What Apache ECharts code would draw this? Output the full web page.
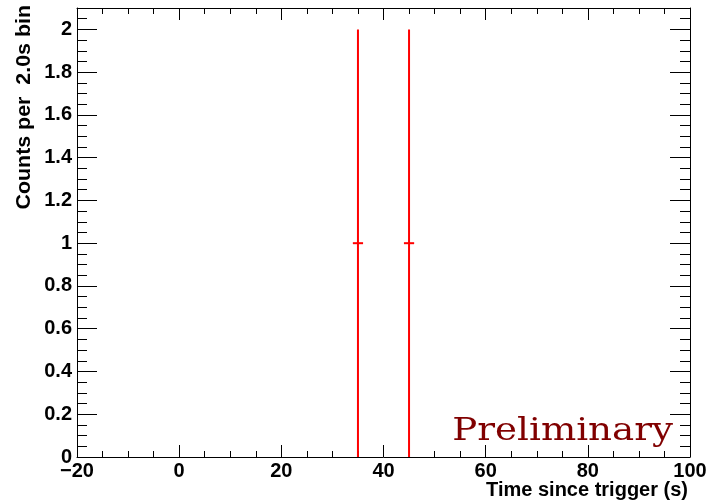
<!DOCTYPE html>
<html>
<head>
<meta charset="utf-8">
<script src="https://cdn.jsdelivr.net/npm/echarts@6/dist/echarts.min.js"></script>
<style>
html,body{margin:0;padding:0;background:#fff;}
#chart{width:707px;height:504px;}
</style>
</head>
<body>
<div id="chart"></div>
<script>
// ---- data ----
const binCenters = [35, 45];          // time since trigger (s)
const counts = [1, 1];                // counts per 2.0 s bin
const countErrors = [1, 1];           // +/- error on counts
const binWidth = 2.0;                 // s
const xTitle = 'Time since trigger (s)';
const yTitle = 'Counts per  2.0s bin';
const watermark = 'Preliminary';

const seriesData = binCenters.map((x, i) => [x, counts[i], countErrors[i], binWidth / 2]);

const FONT = '"Liberation Sans", Arial, Helvetica, sans-serif';
const axisCol = '#000';
const labelStyle = { fontFamily: FONT, fontWeight: 'bold', fontSize: 20, color: '#000' };

function fmtX(v) {
  return v < 0 ? '\u2212' + Math.abs(v) : String(v);
}
function fmtY(v) {
  return String(parseFloat(v.toFixed(2)));
}

const chart = echarts.init(document.getElementById('chart'), null, { renderer: 'canvas' });

const baseX = {
  type: 'value', min: -20, max: 100, interval: 20,
  axisLine: { show: true, onZero: false, lineStyle: { color: axisCol, width: 1 } },
  axisTick: { show: true, inside: true, length: 12, lineStyle: { color: axisCol, width: 1 } },
  minorTick: { show: true, splitNumber: 4, length: 6, lineStyle: { color: axisCol, width: 1 } },
  splitLine: { show: false }, minorSplitLine: { show: false }
};
const baseYMajor = {
  type: 'value', min: 0, max: 2.1, interval: 0.2,
  axisLine: { show: true, onZero: false, lineStyle: { color: axisCol, width: 1 } },
  axisTick: { show: true, inside: true, length: 20, lineStyle: { color: axisCol, width: 1 } },
  splitLine: { show: false }
};
const baseYMinor = {
  type: 'value', min: 0, max: 2.1, interval: 0.05,
  axisLine: { show: false, onZero: false },
  axisTick: { show: true, inside: true, length: 10, lineStyle: { color: axisCol, width: 1 } },
  axisLabel: { show: false },
  splitLine: { show: false }
};

const option = {
  backgroundColor: '#fff',
  animation: false,
  grid: { left: 77, right: 17, top: 8, bottom: 47, containLabel: false, outerBoundsMode: 'none' },
  xAxis: [
    Object.assign({}, baseX, {
      position: 'bottom',
      axisLabel: Object.assign({}, labelStyle, { margin: 4, formatter: fmtX, showMaxLabel: true, showMinLabel: true })
    }),
    Object.assign({}, baseX, { position: 'top', axisLabel: { show: false } })
  ],
  yAxis: [
    Object.assign({}, baseYMajor, {
      position: 'left',
      axisLabel: Object.assign({}, labelStyle, { margin: 5, formatter: fmtY, showMaxLabel: false, showMinLabel: true })
    }),
    Object.assign({}, baseYMajor, { position: 'right', axisLabel: { show: false } }),
    Object.assign({}, baseYMinor, { position: 'left' }),
    Object.assign({}, baseYMinor, { position: 'right' })
  ],
  graphic: [
    {
      type: 'text', x: 688, y: 490,
      style: { text: xTitle, fontFamily: FONT, fontWeight: 'bold', fontSize: 20, fill: '#000',
               align: 'right', verticalAlign: 'middle' }
    },
    {
      type: 'text', x: 24, y: 5, rotation: Math.PI / 2, scaleX: 1.07,
      style: { text: yTitle, fontFamily: FONT, fontWeight: 'bold', fontSize: 20, fill: '#000',
               align: 'right', verticalAlign: 'middle' }
    },
    {
      type: 'text', x: 673, y: 447, scaleX: 1.2,
      style: { text: watermark, fontFamily: '"DejaVu Serif", "Liberation Serif", serif', fontSize: 31,
               fill: '#800000', align: 'right', verticalAlign: 'bottom' }
    }
  ],
  series: [{
    type: 'custom',
    xAxisIndex: 0, yAxisIndex: 0,
    data: seriesData,
    clip: true,
    renderItem: function (params, api) {
      const x = api.value(0), y = api.value(1), e = api.value(2), hw = api.value(3);
      const pLow = api.coord([x, y - e]);
      const pHigh = api.coord([x, y + e]);
      const pL = api.coord([x - hw, y]);
      const pR = api.coord([x + hw, y]);
      const st = { stroke: '#ff0000', lineWidth: 2 };
      return {
        type: 'group',
        children: [
          { type: 'line', shape: { x1: pLow[0], y1: pLow[1], x2: pHigh[0], y2: pHigh[1] }, style: st },
          { type: 'line', shape: { x1: pL[0], y1: pL[1], x2: pR[0], y2: pR[1] }, style: st }
        ]
      };
    }
  }]
};
chart.setOption(option);
</script>
</body>
</html>
